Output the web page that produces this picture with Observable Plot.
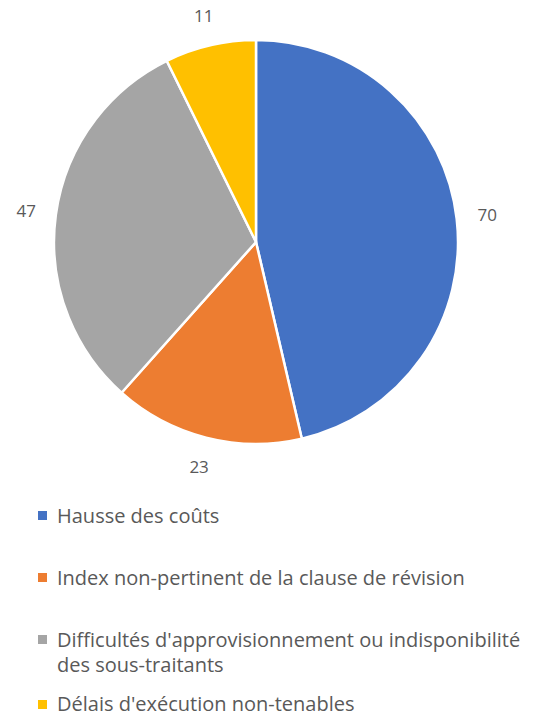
<!DOCTYPE html>
<html>
<head>
<meta charset="utf-8">
<script src="https://cdn.jsdelivr.net/npm/d3@7"></script>
<script src="https://cdn.jsdelivr.net/npm/@observablehq/plot@0.6"></script>
<style>
  html, body { margin: 0; padding: 0; background: #fff; }
  #chart svg { display: block; }
  .legend { font-family: "Open Sans", sans-serif; font-size: 20px; color: #595959; }
  .item { position: relative; padding-left: 57px; line-height: 25px; width: 484px; white-space: normal; }
  .item.last { line-height: 22px; }
  .sw { position: absolute; left: 38px; top: 8px; width: 9px; height: 9px; }
  .item.last .sw { top: 7px; }
</style>
</head>
<body>
<div id="chart"></div>
<script>
const categories = [
  "Hausse des coûts",
  "Index non-pertinent de la clause de révision",
  "Difficultés d'approvisionnement ou indisponibilité des sous-traitants",
  "Délais d'exécution non-tenables"
];
const values = [70, 23, 47, 11];
const colors = ["#4472C4", "#ED7D31", "#A5A5A5", "#FFC000"];

const color = Plot.scale({color: {type: "ordinal", domain: categories, range: colors}});

const pie = d3.pie().sort(null).value(d => d.value)(
  categories.map((c, i) => ({category: c, value: values[i]}))
);
const labelData = pie.map(a => {
  const mid = (a.startAngle + a.endAngle) / 2;
  return {x: 1.15 * Math.sin(mid), y: 1.15 * Math.cos(mid), text: String(a.data.value)};
});

const cx = 256, cy = 242, r = 202;

const chart = Plot.plot({
  width: 541,
  height: 490,
  margin: 0,
  x: {domain: [-1, 1], range: [cx - r, cx + r], axis: null},
  y: {domain: [-1, 1], range: [cy + r, cy - r], axis: null},
  marks: [
    (index, scales) => {
      const ox = scales.x(0), oy = scales.y(0);
      const rad = scales.x(1) - scales.x(0);
      const arc = d3.arc().innerRadius(0).outerRadius(rad);
      const g = d3.create("svg:g").attr("transform", `translate(${ox},${oy})`);
      g.selectAll("path").data(pie).join("path")
        .attr("d", arc)
        .attr("fill", d => color.apply(d.data.category))
        .attr("stroke", "#fff")
        .attr("stroke-width", 2.5)
        .attr("stroke-linejoin", "round");
      return g.node();
    },
    Plot.text(labelData, {
      x: "x", y: "y", text: "text",
      fill: "#595959", fontSize: 17, fontFamily: "Open Sans, sans-serif"
    })
  ]
});
document.getElementById("chart").appendChild(chart);

const legend = d3.select("body").append("div").attr("class", "legend");
const tops = [13, 37, 37, 16];
categories.forEach((c, i) => {
  const it = legend.append("div")
    .attr("class", i === categories.length - 1 ? "item last" : "item")
    .style("margin-top", tops[i] + "px");
  it.append("span").attr("class", "sw").style("background", color.apply(c));
  it.append("span").text(c);
});
</script>
</body>
</html>
